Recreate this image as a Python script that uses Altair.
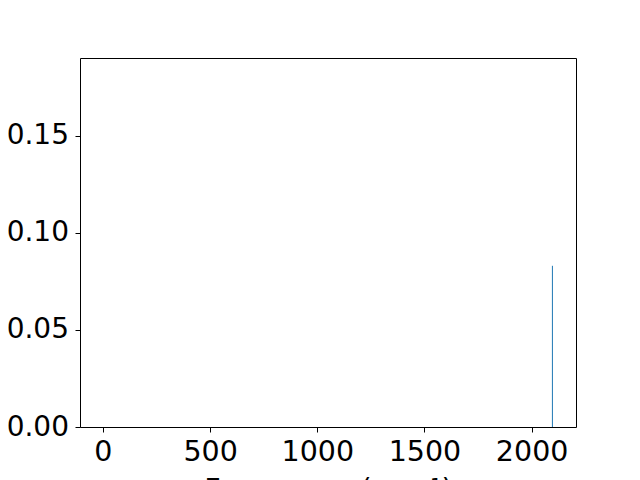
import altair as alt
import pandas as pd

frequencies = [2097.0]
intensities = [0.083]

df = pd.DataFrame({"freq": frequencies, "inten": intensities, "base": [0.0] * len(frequencies)})

font = "DejaVu Sans"

chart = alt.Chart(df).mark_rule(color="#1f77b4", strokeWidth=1, opacity=1).encode(
    x=alt.X("freq:Q",
            scale=alt.Scale(domain=[-107, 2207], nice=False, zero=False),
            axis=alt.Axis(values=[0, 500, 1000, 1500, 2000], format="d",
                          title="Frequency (cm⁻¹)")),
    y=alt.Y("base:Q",
            scale=alt.Scale(domain=[0, 0.19], nice=False),
            axis=alt.Axis(values=[0, 0.05, 0.10, 0.15], format=".2f", title=None)),
    y2="inten:Q",
).properties(
    width=496, height=369,
    background="white",
    autosize=alt.AutoSizeParams(type="none"),
    padding={"left": 72, "top": 50, "right": 56, "bottom": 60},
).configure_view(
    stroke="black", strokeWidth=1
).configure_axis(
    labelFont=font, labelColor="black",
    titleFontSize=28.5, titleFont=font, titleFontWeight="normal", titleColor="black",
    tickSize=5, tickColor="black", tickWidth=1,
    grid=False, domain=False, labelFlush=False, labelOverlap=False,
).configure_axisX(
    labelFontSize=28.5, labelPadding=5, titlePadding=9.5,
).configure_axisY(
    labelFontSize=28, labelPadding=6.5,
)

chart.save("out.html", embed_options={"renderer": "svg", "actions": False})
